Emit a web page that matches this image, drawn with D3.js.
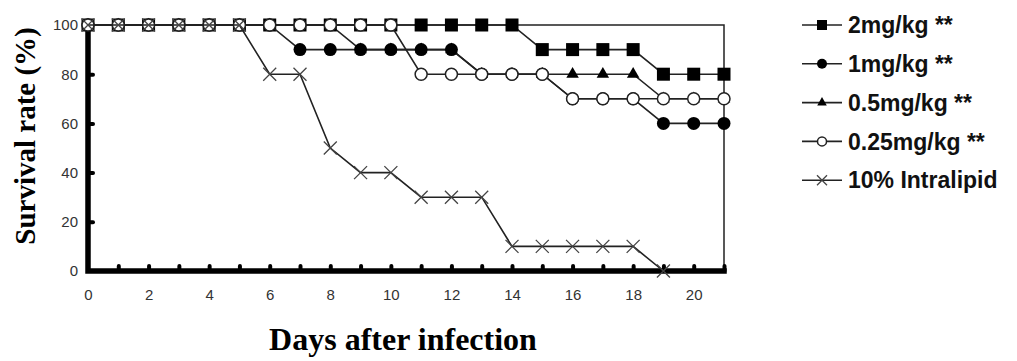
<!DOCTYPE html>
<html>
<head>
<meta charset="utf-8">
<script src="https://cdn.jsdelivr.net/npm/d3@7"></script>
<style>
  body { margin: 0; background: #fff; }
  .tick text { font-family: Arial, "Liberation Sans", sans-serif; fill: #333; }
</style>
</head>
<body>
<div id="chart"></div>
<script>
// survival (%) per day after infection
const days = d3.range(0, 22)
const dose2 = [100,100,100,100,100,100,100,100,100,100,100,100,100,100,100,90,90,90,90,80,80,80]
const dose1 = [100,100,100,100,100,100,100,90,90,90,90,90,90,80,80,80,70,70,70,60,60,60]
const dose05 = [100,100,100,100,100,100,100,100,100,90,90,90,90,80,80,80,80,80,80,70,70,70]
const dose025 = [100,100,100,100,100,100,100,100,100,100,100,80,80,80,80,80,70,70,70,70,70,70]
const intralipid = [100,100,100,100,100,100,80,80,50,40,40,30,30,30,10,10,10,10,10,0]

const seriesNames = ["2mg/kg **", "1mg/kg **", "0.5mg/kg **", "0.25mg/kg **", "10% Intralipid"]
const seriesShapes = ["square", "circle", "triangle", "open", "cross"]
// drawing order: triangles sit under the filled circles
const drawOrder = [2, 0, 1, 3, 4]
const xTickLabels = [0, 2, 4, 6, 8, 10, 12, 14, 16, 18, 20]
const yTickLabels = [0, 20, 40, 60, 80, 100]

const width = 1017
const height = 361

const series = [dose2, dose1, dose05, dose025, intralipid].map((values, i) => ({
  name: seriesNames[i],
  shape: seriesShapes[i],
  points: values.map((v, d) => ({ day: days[d], value: v }))
}))

const x = d3.scaleLinear().domain([0, 21]).range([88, 724])
const y = d3.scaleLinear().domain([0, 100]).range([271, 25])

const svg = d3.select("#chart").append("svg")
  .attr("width", width)
  .attr("height", height)

// thin frame on top and right
svg.append("path")
  .attr("d", `M${x(0)},${y(100)}H${x(21)}V${y(0)}`)
  .attr("fill", "none")
  .attr("stroke", "#222")
  .attr("stroke-width", 1.5)

// x axis: ticks every day, labels every 2 days
const xTicks = svg.append("g")
  .attr("transform", `translate(0,${y(0)})`)
  .call(d3.axisBottom(x).tickValues(days.slice(1)).tickSize(-5).tickFormat(""))
xTicks.select(".domain").remove()
xTicks.selectAll(".tick line").attr("stroke", "#000").attr("stroke-width", 4).attr("stroke-linecap", "round")

const xLabels = svg.append("g")
  .attr("transform", `translate(0,${y(0)})`)
  .call(d3.axisBottom(x).tickValues(xTickLabels).tickSize(0).tickPadding(18))
xLabels.select(".domain").remove()
xLabels.selectAll(".tick text").attr("font-size", 15)

// y axis
const yAxis = svg.append("g")
  .attr("transform", `translate(${x(0)},0)`)
  .call(d3.axisLeft(y).tickValues(yTickLabels).tickSize(0).tickPadding(10))
yAxis.select(".domain").remove()
yAxis.selectAll(".tick text").attr("font-size", 15)

const yTicks = svg.append("g")
  .attr("transform", `translate(${x(0)},0)`)
  .call(d3.axisLeft(y).tickValues([20, 40, 60, 80]).tickSize(-5).tickFormat(""))
yTicks.select(".domain").remove()
yTicks.selectAll(".tick line").attr("stroke", "#000").attr("stroke-width", 4).attr("stroke-linecap", "round")

// thick axis lines
svg.append("path")
  .attr("d", `M${x(0)},${y(100)}V${y(0)}H${x(21)}`)
  .attr("fill", "none")
  .attr("stroke", "#000")
  .attr("stroke-width", 5.5)
  .attr("stroke-linecap", "square")

function drawMarker(g, shape, size) {
  const s = size
  if (shape === "square") {
    g.append("rect").attr("x", -s / 2).attr("y", -s / 2).attr("width", s).attr("height", s).attr("fill", "#000")
  } else if (shape === "circle") {
    g.append("circle").attr("r", s / 2).attr("fill", "#000")
  } else if (shape === "triangle") {
    g.append("path").attr("d", d3.symbol(d3.symbolTriangle, s * s * 0.4)()).attr("fill", "#000")
  } else if (shape === "open") {
    g.append("circle").attr("r", s / 2 - 0.5).attr("fill", "#fff").attr("stroke", "#222").attr("stroke-width", 1.5)
  } else {
    const h = s / 2
    g.append("path").attr("d", `M${-h},${-h}L${h},${h}M${-h},${h}L${h},${-h}`)
      .attr("stroke", "#444").attr("stroke-width", 1.3)
  }
}

const line = d3.line().x(d => x(d.day)).y(d => y(d.value))

drawOrder.map(i => series[i]).forEach(s => {
  svg.append("path")
    .datum(s.points)
    .attr("d", line)
    .attr("fill", "none")
    .attr("stroke", "#222")
    .attr("stroke-width", 1.6)

  svg.append("g").selectAll("g")
    .data(s.points)
    .join("g")
      .attr("transform", d => `translate(${x(d.day)},${y(d.value)})`)
      .each(function() { drawMarker(d3.select(this), s.shape, 13) })
})

// legend
const legend = svg.append("g").attr("transform", "translate(802,25)")
const rows = legend.selectAll("g")
  .data(series)
  .join("g")
    .attr("transform", (d, i) => `translate(0,${i * 38.8})`)

rows.append("line")
  .attr("x1", 0).attr("x2", 40)
  .attr("stroke", "#222").attr("stroke-width", 1.6)
rows.each(function(d) { drawMarker(d3.select(this).append("g").attr("transform", "translate(20,0)"), d.shape, 10) })
rows.append("text")
  .attr("x", 46)
  .attr("dy", "0.36em")
  .attr("font-family", "Arial, 'Liberation Sans', sans-serif")
  .attr("font-weight", "bold")
  .attr("font-size", 23)
  .attr("fill", "#111")
  .text(d => d.name)

// axis titles
svg.append("text")
  .attr("x", 403)
  .attr("y", 350)
  .attr("text-anchor", "middle")
  .attr("font-family", "'Times New Roman', 'Liberation Serif', serif")
  .attr("font-weight", "bold")
  .attr("font-size", 32)
  .text("Days after infection")

svg.append("text")
  .attr("transform", "translate(35,136) rotate(-90)")
  .attr("text-anchor", "middle")
  .attr("font-family", "'Times New Roman', 'Liberation Serif', serif")
  .attr("font-weight", "bold")
  .attr("font-size", 29)
  .text("Survival rate (%)")
</script>
</body>
</html>
